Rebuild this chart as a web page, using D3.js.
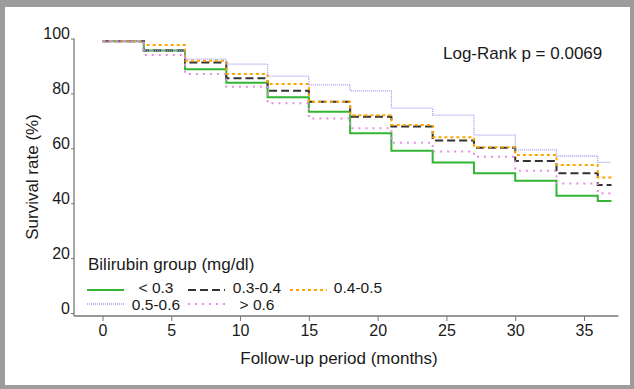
<!DOCTYPE html>
<html>
<head>
<meta charset="utf-8">
<script src="https://cdn.jsdelivr.net/npm/d3@7"></script>
<style>
  body { margin: 0; background: #fff; }
  text { font-family: 'Liberation Sans', Arial, sans-serif; fill: #1a1a1a; }
</style>
</head>
<body>
<div class="km__container"></div>
<script>
//data
const months = [0, 3, 6, 9, 12, 15, 18, 21, 24, 27, 30, 33, 36];
const endMonth = 37;
const survLt03 = [99, 95.6, 88.8, 83.9, 78.6, 73.3, 65.5, 59.1, 54.8, 50.9, 48.2, 42.7, 40.8];
const surv0304 = [99, 95.6, 91.3, 85.5, 81.0, 77.0, 71.5, 67.9, 62.8, 60.2, 55.4, 50.9, 46.6];
const surv0405 = [99, 97.6, 91.9, 87.1, 83.4, 77.0, 72.0, 68.5, 64.0, 60.4, 57.6, 53.9, 49.4];
const surv0506 = [99, 95.6, 92.5, 90.7, 86.3, 83.1, 80.9, 74.6, 72.1, 64.8, 59.4, 57.2, 54.9];
const survGt06 = [99, 94.0, 87.1, 82.4, 76.4, 70.9, 67.3, 62.0, 58.8, 56.9, 51.8, 47.2, 43.6];
const groupNames = ['< 0.3', '0.3-0.4', '0.4-0.5', '0.5-0.6', '> 0.6'];
const xTicks = [0, 5, 10, 15, 20, 25, 30, 35];
const yTicks = [0, 20, 40, 60, 80, 100];

// series styling
const seriesStyle = [
    { color: '#33b533', dash: null, width: 2 },
    { color: '#333333', dash: '8,4', width: 2 },
    { color: '#ffa500', dash: '3,3', width: 2 },
    { color: '#9d9df2', dash: '1,1', width: 1.3 },
    { color: '#e68ee6', dash: '2,5', width: 2 }
];

const toSteps = values => {
    const pts = months.map((m, i) => ({ t: m, s: values[i] }));
    pts.push({ t: endMonth, s: values[values.length - 1] });
    return pts;
};

const series = [survLt03, surv0304, surv0405, surv0506, survGt06].map((v, i) => ({
    name: groupNames[i],
    ...seriesStyle[i],
    values: toSteps(v)
}));

//chart
const width = 634;
const height = 389;

const svg = d3.select('.km__container')
    .append('svg')
    .attr('width', width)
    .attr('height', height);

// frame
svg.append('rect')
    .attr('width', width)
    .attr('height', height)
    .style('fill', '#9c9c9c');
svg.append('rect')
    .attr('x', 5)
    .attr('y', 7)
    .attr('width', 625)
    .attr('height', 378)
    .style('fill', '#fff');

//scales
const xScale = d3.scaleLinear()
    .domain([0, 35])
    .range([102.5, 584]);
const yScale = d3.scaleLinear()
    .domain([0, 100])
    .range([313, 38.5]);

const axisY0 = 316;
const axisX0 = 74;

// axes
const xAxis = d3.axisBottom(xScale)
    .tickValues(xTicks)
    .tickSize(5)
    .tickPadding(4);
const xAxisDraw = svg.append('g')
    .attr('class', 'x-axis')
    .attr('transform', `translate(0,${axisY0})`)
    .call(xAxis);
xAxisDraw.select('.domain').remove();
xAxisDraw.selectAll('line').style('stroke', '#777');
xAxisDraw.selectAll('text')
    .style('font-size', '16px')
    .style('font-family', "'Liberation Sans', Arial, sans-serif")
    .style('fill', '#1a1a1a');

svg.append('line')
    .attr('x1', axisX0)
    .attr('x2', xScale(endMonth + 0.5))
    .attr('y1', axisY0)
    .attr('y2', axisY0)
    .style('stroke', '#777')
    .style('stroke-width', 1.3);

const yAxis = d3.axisLeft(yScale)
    .tickValues(yTicks)
    .tickSize(3)
    .tickPadding(1);
const yAxisDraw = svg.append('g')
    .attr('class', 'y-axis')
    .attr('transform', `translate(${axisX0},0)`)
    .call(yAxis);
yAxisDraw.select('.domain').remove();
yAxisDraw.selectAll('line').style('stroke', '#777');
yAxisDraw.selectAll('text')
    .attr('dy', '0')
    .attr('y', 0)
    .style('font-size', '16px')
    .style('font-family', "'Liberation Sans', Arial, sans-serif")
    .style('fill', '#1a1a1a');

svg.append('line')
    .attr('x1', axisX0)
    .attr('x2', axisX0)
    .attr('y1', yScale(100))
    .attr('y2', axisY0)
    .style('stroke', '#777')
    .style('stroke-width', 1.3);

// axis titles
svg.append('text')
    .attr('x', 339)
    .attr('y', 364)
    .style('text-anchor', 'middle')
    .style('font-size', '17px')
    .text('Follow-up period (months)');

svg.append('text')
    .attr('transform', `translate(38,177) rotate(-90)`)
    .style('text-anchor', 'middle')
    .style('font-size', '17px')
    .text('Survival rate (%)');

// curves
const lineGenerator = d3.line()
    .x(d => xScale(d.t))
    .y(d => yScale(d.s))
    .curve(d3.curveStepAfter);

svg.append('g')
    .attr('class', 'km-curves')
    .selectAll('path')
    .data(series)
    .enter()
    .append('path')
    .attr('d', d => lineGenerator(d.values))
    .style('fill', 'none')
    .style('stroke', d => d.color)
    .style('stroke-width', d => d.width)
    .style('stroke-dasharray', d => d.dash);

// annotation
svg.append('text')
    .attr('x', 443)
    .attr('y', 59)
    .style('font-size', '17px')
    .text('Log-Rank p = 0.0069');

// legend
const legend = svg.append('g').attr('class', 'legend');
legend.append('text')
    .attr('x', 88)
    .attr('y', 270)
    .style('font-size', '17px')
    .text('Bilirubin group (mg/dl)');

const colStart = [87, 188, 290];
const colCenter = [156, 257, 358];
const rowLine = [290, 304];
const rowText = [293, 310];

const items = legend.selectAll('.legend-item')
    .data(series)
    .enter()
    .append('g')
    .attr('class', 'legend-item');

items.append('line')
    .attr('x1', (d, i) => colStart[i % 3])
    .attr('x2', (d, i) => colStart[i % 3] + 37)
    .attr('y1', (d, i) => rowLine[Math.floor(i / 3)])
    .attr('y2', (d, i) => rowLine[Math.floor(i / 3)])
    .style('stroke', d => d.color)
    .style('stroke-width', d => d.width)
    .style('stroke-dasharray', d => d.dash);

items.append('text')
    .attr('x', (d, i) => colCenter[i % 3])
    .attr('y', (d, i) => rowText[Math.floor(i / 3)])
    .style('text-anchor', 'middle')
    .style('font-size', '15.5px')
    .text(d => d.name);
</script>
</body>
</html>
